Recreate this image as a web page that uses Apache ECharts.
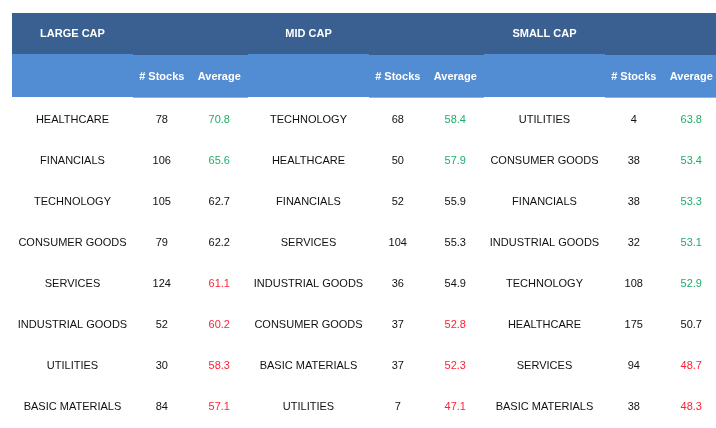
<!DOCTYPE html>
<html>
<head>
<meta charset="utf-8">
<title>Sector averages by market cap</title>
<script src="https://cdn.jsdelivr.net/npm/echarts@6/dist/echarts.min.js"></script>
<style>
  html, body { margin: 0; padding: 0; background: #fff; }
  #chart { width: 716px; height: 428px; }
</style>
</head>
<body>
<div id="chart"></div>
<script>
const groups = ['LARGE CAP', 'MID CAP', 'SMALL CAP'];
const statHeaders = ['# Stocks', 'Average'];

const largeSectors = ['HEALTHCARE', 'FINANCIALS', 'TECHNOLOGY', 'CONSUMER GOODS', 'SERVICES', 'INDUSTRIAL GOODS', 'UTILITIES', 'BASIC MATERIALS'];
const largeStocks = [78, 106, 105, 79, 124, 52, 30, 84];
const largeAverage = [70.8, 65.6, 62.7, 62.2, 61.1, 60.2, 58.3, 57.1];
const largeTrend = ['up', 'up', 'flat', 'flat', 'down', 'down', 'down', 'down'];

const midSectors = ['TECHNOLOGY', 'HEALTHCARE', 'FINANCIALS', 'SERVICES', 'INDUSTRIAL GOODS', 'CONSUMER GOODS', 'BASIC MATERIALS', 'UTILITIES'];
const midStocks = [68, 50, 52, 104, 36, 37, 37, 7];
const midAverage = [58.4, 57.9, 55.9, 55.3, 54.9, 52.8, 52.3, 47.1];
const midTrend = ['up', 'up', 'flat', 'flat', 'flat', 'down', 'down', 'down'];

const smallSectors = ['UTILITIES', 'CONSUMER GOODS', 'FINANCIALS', 'INDUSTRIAL GOODS', 'TECHNOLOGY', 'HEALTHCARE', 'SERVICES', 'BASIC MATERIALS'];
const smallStocks = [4, 38, 38, 32, 108, 175, 94, 38];
const smallAverage = [63.8, 53.4, 53.3, 53.1, 52.9, 50.7, 48.7, 48.3];
const smallTrend = ['up', 'up', 'up', 'up', 'up', 'flat', 'down', 'down'];

// layout, in table units (1 unit = 1 px)
const groupW = 236, sectorW = 121, statW = 57.5;
const head1 = [0, 41], head2 = [41, 84], rowTop = 86, rowH = 41;
const trendColor = { up: '#1fae6a', flat: '#111111', down: '#ff2236' };
const darkBlue = '#3a6091', lightBlue = '#528cd3';
const font = '"Liberation Sans", Arial, sans-serif';

const tables = [
  { sectors: largeSectors, stocks: largeStocks, avg: largeAverage, trend: largeTrend },
  { sectors: midSectors, stocks: midStocks, avg: midAverage, trend: midTrend },
  { sectors: smallSectors, stocks: smallStocks, avg: smallAverage, trend: smallTrend }
];

// every cell: [x0, y0, x1, y1] plus text/style kept alongside
const cells = [];
const cellInfo = [];
function addCell(x0, y0, x1, y1, info) {
  cells.push([x0, y0, x1, y1]);
  cellInfo.push(info);
}

// header backgrounds
addCell(0, head1[0], groupW * 3, head1[1], { bg: darkBlue });
addCell(0, head2[0], groupW * 3, head2[1], { bg: lightBlue });

tables.forEach((t, g) => {
  const gx = g * groupW;
  const sx = gx + sectorW;
  // stat header block is drawn slightly offset, as in the source table
  addCell(sx, head2[0], sx + statW * 2, head2[0] + 1, { bg: darkBlue });
  addCell(sx, head2[1], sx + statW * 2, head2[1] + 1, { bg: '#8fb1dd' });
  addCell(gx, head1[0], sx, head1[1], { text: groups[g], color: '#fff', bold: true });
  statHeaders.forEach((h, k) => {
    addCell(sx + statW * k, head2[0] + 1, sx + statW * (k + 1), head2[1] + 2, { text: h, color: '#fff', bold: true });
  });
  t.sectors.forEach((s, i) => {
    const y0 = rowTop + rowH * i, y1 = y0 + rowH;
    addCell(gx, y0, sx, y1, { text: s, color: '#111' });
    addCell(sx, y0, sx + statW, y1, { text: String(t.stocks[i]), color: '#111' });
    addCell(sx + statW, y0, sx + statW * 2, y1, { text: t.avg[i].toFixed(1), color: trendColor[t.trend[i]] });
  });
});

const chart = echarts.init(document.getElementById('chart'));
chart.setOption({
  backgroundColor: '#fff',
  animation: false,
  grid: { left: 12, top: 13, right: 0, bottom: 0 },
  xAxis: { type: 'value', min: 0, max: 704, show: false },
  yAxis: { type: 'value', min: 0, max: 415, inverse: true, show: false },
  series: [{
    type: 'custom',
    coordinateSystem: 'cartesian2d',
    clip: false,
    data: cells,
    renderItem: function (params, api) {
      const info = cellInfo[params.dataIndex];
      const p0 = api.coord([api.value(0), api.value(1)]);
      const p1 = api.coord([api.value(2), api.value(3)]);
      const children = [];
      if (info.bg) {
        children.push({
          type: 'rect',
          shape: { x: p0[0], y: p0[1], width: p1[0] - p0[0], height: p1[1] - p0[1] },
          style: { fill: info.bg }
        });
      }
      if (info.text) {
        children.push({
          type: 'text',
          style: {
            text: info.text,
            x: (p0[0] + p1[0]) / 2,
            y: (p0[1] + p1[1]) / 2,
            align: 'center',
            verticalAlign: 'middle',
            fill: info.color,
            fontSize: 11,
            fontWeight: info.bold ? 'bold' : 'normal',
            fontFamily: font
          }
        });
      }
      return { type: 'group', children: children };
    }
  }]
});
</script>
</body>
</html>
